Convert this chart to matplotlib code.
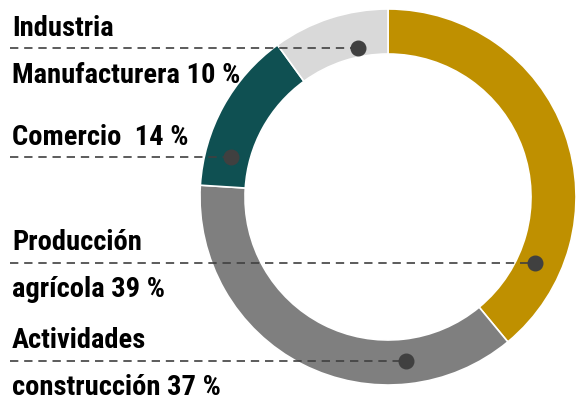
import matplotlib
matplotlib.use("Agg")
import matplotlib.pyplot as plt
from matplotlib import font_manager
import numpy as np

categories = ["Producción agrícola", "Actividades construcción", "Comercio", "Industria Manufacturera"]
values = [39, 37, 14, 10]
colors = ["#BF9000", "#7F7F7F", "#0F5052", "#D9D9D9"]

avail = {f.name for f in font_manager.fontManager.ttflist}
family = "DejaVu Sans"
for cand in ["Roboto Condensed", "Liberation Sans Narrow", "Roboto"]:
    if cand in avail:
        family = cand
        break

fig = plt.figure(figsize=(5.76, 4.0), dpi=100)
ax = fig.add_axes([0, 0, 1, 1])

cx, cy, R, W = 388, 203, 188, 45
ax.pie(values, colors=colors, startangle=90, counterclock=False,
       radius=R, center=(cx, cy), frame=True,
       wedgeprops=dict(width=W, edgecolor="white", linewidth=1.2))
ax.set_xlim(0, 576)
ax.set_ylim(0, 400)
ax.set_aspect("equal")
ax.axis("off")

# leader lines: (y, dot x) in canvas units
leaders = [(137, 535), (39, 406), (243, 231), (352, 358)]
for (ly, dx) in leaders:
    ax.plot([10, dx], [ly, ly], ls=(0, (5, 3.5)), color="#404040", lw=1.2)
    ax.plot([dx], [ly], "o", color="#404040", ms=10.5)

fs = 20.5
tk = dict(family=family, fontweight="bold", fontsize=fs, color="black", va="baseline", ha="left")
ax.text(12, 364, "Industria", **tk)
ax.text(12, 317, "Manufacturera 10 %", **tk)
ax.text(12, 255, "Comercio  14 %", **tk)
ax.text(12, 150, "Producción", **tk)
ax.text(12, 103, "agrícola 39 %", **tk)
ax.text(12, 52, "Actividades", **tk)
ax.text(12, 5, "construcción 37 %", **tk)

fig.savefig("out.png", dpi=100)
